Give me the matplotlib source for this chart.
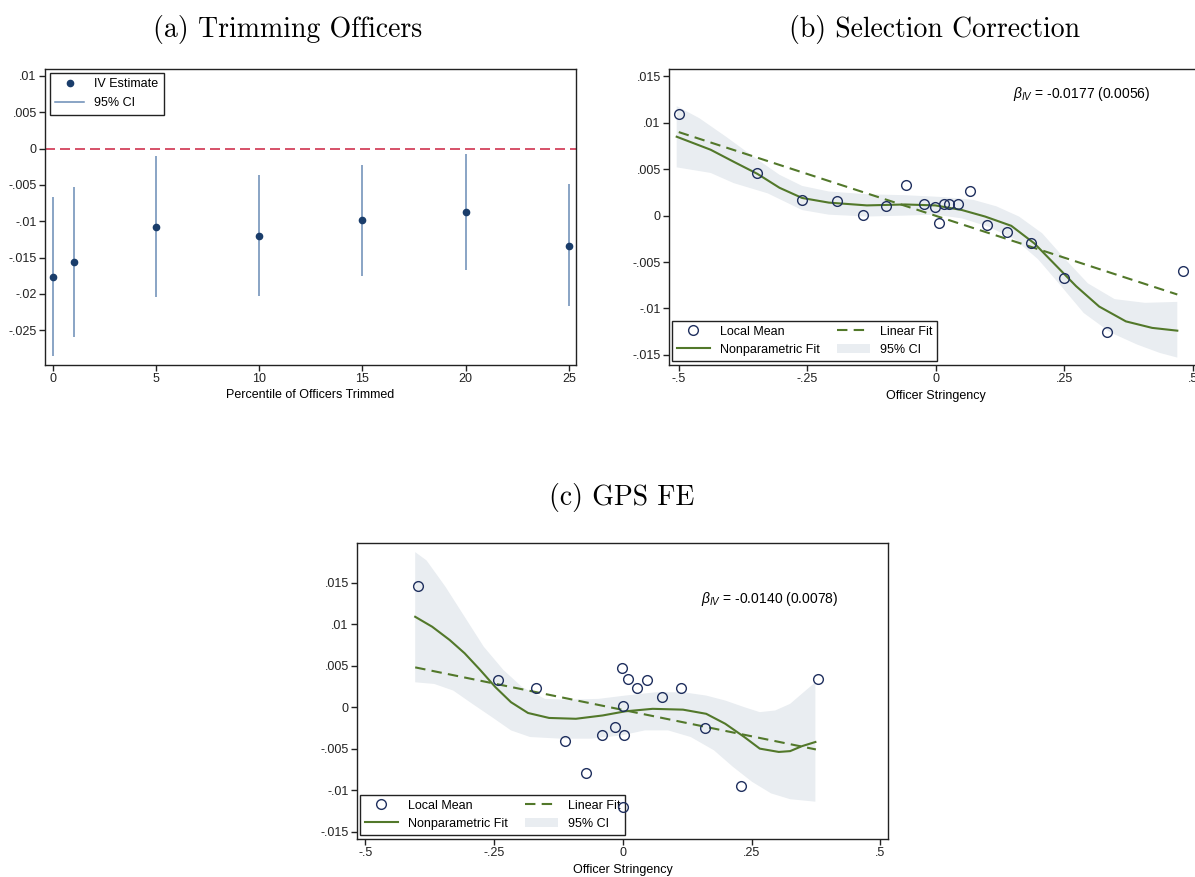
import matplotlib
matplotlib.use("Agg")
import matplotlib.pyplot as plt
import numpy as np
from matplotlib.lines import Line2D
from matplotlib.patches import Patch

plt.rcParams['font.family'] = ['Liberation Sans', 'DejaVu Sans']
plt.rcParams['mathtext.fontset'] = 'custom'
plt.rcParams['mathtext.it'] = 'Liberation Sans:italic'
plt.rcParams['mathtext.rm'] = 'Liberation Sans'

# ---- (a) Trimming Officers ----
trim_pct = [0, 1, 5, 10, 15, 20, 25]
trim_est = [-0.0177, -0.0156, -0.0108, -0.0120, -0.0099, -0.0087, -0.0134]
trim_lo = [-0.0286, -0.0259, -0.0205, -0.0203, -0.0175, -0.0167, -0.0217]
trim_hi = [-0.0066, -0.0053, -0.0010, -0.0037, -0.0022, -0.0007, -0.0049]

# ---- (b) Selection Correction ----
b_mean_x = [-0.500, -0.347, -0.260, -0.193, -0.141, -0.096, -0.058, -0.023, -0.001, 0.006,
            0.016, 0.026, 0.043, 0.067, 0.099, 0.138, 0.186, 0.250, 0.333, 0.481]
b_mean_y = [0.0109, 0.0046, 0.0017, 0.0016, 0.0001, 0.0010, 0.0033, 0.0012, 0.0009, -0.0008,
            0.0012, 0.0012, 0.0013, 0.0027, -0.0010, -0.0018, -0.0029, -0.0067, -0.0125, -0.0060]
b_lin_x = [-0.50, 0.47]
b_lin_y = [0.0090, -0.0085]
b_np_x = [-0.504, -0.438, -0.393, -0.347, -0.304, -0.260, -0.208, -0.134, -0.060, -0.001,
          0.051, 0.096, 0.147, 0.192, 0.229, 0.273, 0.318, 0.370, 0.421, 0.470]
b_np_y = [0.0085, 0.0071, 0.0058, 0.0045, 0.0030, 0.0019, 0.0014, 0.0011, 0.0012, 0.0011,
          0.0006, -0.0001, -0.0011, -0.0030, -0.0051, -0.0076, -0.0098, -0.0114, -0.0121, -0.0124]
b_hi_x = [-0.504, -0.460, -0.408, -0.356, -0.304, -0.260, -0.208, -0.134, -0.060, 0.014,
          0.073, 0.118, 0.162, 0.207, 0.252, 0.296, 0.348, 0.407, 0.470]
b_hi_y = [0.0118, 0.0105, 0.0085, 0.0064, 0.0044, 0.0032, 0.0026, 0.0023, 0.0022, 0.0020,
          0.0017, 0.0010, -0.0001, -0.0019, -0.0047, -0.0073, -0.0090, -0.0094, -0.0093]
b_lo_x = [-0.504, -0.438, -0.393, -0.327, -0.260, -0.208, -0.134, -0.060, -0.001, 0.051,
          0.103, 0.155, 0.199, 0.244, 0.288, 0.340, 0.392, 0.436, 0.470]
b_lo_y = [0.0052, 0.0046, 0.0035, 0.0024, 0.0006, 0.0001, -0.0001, 0.0000, 0.0001, -0.0003,
          -0.0012, -0.0026, -0.0047, -0.0076, -0.0105, -0.0126, -0.0139, -0.0148, -0.0153]

# ---- (c) GPS FE ----
c_mean_x = [-0.397, -0.243, -0.168, -0.113, -0.072, -0.040, -0.016, -0.002, 0.000, 0.002,
            0.000, 0.011, 0.027, 0.048, 0.077, 0.113, 0.159, 0.229, 0.379]
c_mean_y = [0.0146, 0.0033, 0.0023, -0.0041, -0.0079, -0.0034, -0.0024, 0.0047, 0.0002, -0.0034,
            -0.0121, 0.0034, 0.0023, 0.0033, 0.0012, 0.0023, -0.0025, -0.0095, 0.0034]
c_lin_x = [-0.403, 0.375]
c_lin_y = [0.0048, -0.0051]
c_np_x = [-0.403, -0.370, -0.336, -0.307, -0.277, -0.247, -0.217, -0.184, -0.143, -0.091,
          -0.039, 0.005, 0.058, 0.117, 0.162, 0.199, 0.236, 0.266, 0.303, 0.325, 0.348, 0.374]
c_np_y = [0.0109, 0.0097, 0.0081, 0.0065, 0.0045, 0.0024, 0.0006, -0.0007, -0.0013, -0.0014,
          -0.0010, -0.0005, -0.0002, -0.0003, -0.0008, -0.0020, -0.0036, -0.0050, -0.0054, -0.0053,
          -0.0047, -0.0042]
c_hi_x = [-0.403, -0.381, -0.344, -0.307, -0.270, -0.232, -0.195, -0.151, -0.106, -0.047,
          0.005, 0.065, 0.117, 0.162, 0.199, 0.236, 0.266, 0.296, 0.325, 0.355, 0.374]
c_hi_y = [0.0187, 0.0177, 0.0145, 0.0109, 0.0073, 0.0045, 0.0024, 0.0010, 0.0009, 0.0010,
          0.0014, 0.0018, 0.0018, 0.0014, 0.0008, 0.0000, -0.0006, -0.0004, 0.0004, 0.0020, 0.0030]
c_lo_x = [-0.403, -0.366, -0.329, -0.292, -0.254, -0.217, -0.180, -0.120, -0.061, -0.002,
          0.043, 0.088, 0.132, 0.177, 0.214, 0.251, 0.288, 0.325, 0.374]
c_lo_y = [0.0030, 0.0028, 0.0020, 0.0004, -0.0012, -0.0028, -0.0036, -0.0038, -0.0038, -0.0034,
          -0.0028, -0.0028, -0.0036, -0.0052, -0.0072, -0.0090, -0.0104, -0.0111, -0.0114]

ytick_a = [0.01, 0.005, 0, -0.005, -0.01, -0.015, -0.02, -0.025]
ytick_a_lab = ['.01', '.005', '0', '-.005', '-.01', '-.015', '-.02', '-.025']
ytick_bc = [0.015, 0.01, 0.005, 0, -0.005, -0.01, -0.015]
ytick_bc_lab = ['.015', '.01', '.005', '0', '-.005', '-.01', '-.015']
xtick_bc = [-0.5, -0.25, 0, 0.25, 0.5]
xtick_bc_lab = ['-.5', '-.25', '0', '.25', '.5']

NAVY = '#1a3d6b'
CI_BLUE = '#6a8cb5'
GREEN = '#52782a'
BAND = '#e9edf1'
CIRC = '#1f2f5e'

W, H = 1195, 877
fig = plt.figure(figsize=(W / 100, H / 100), dpi=100)


def px_axes(left, top, right, bottom):
    return fig.add_axes([left / W, 1 - bottom / H, (right - left) / W, (bottom - top) / H])


def style(ax):
    for s in ax.spines.values():
        s.set_linewidth(1.0)
        s.set_color('#222222')
    ax.tick_params(direction='out', length=4, width=1, labelsize=9, pad=2, colors='#222222')


# panel a
axa = px_axes(45, 69, 576, 365)
style(axa)
axa.axhline(0, color='#d0344f', lw=1.2, ls=(0, (6, 3)), zorder=1)
axa.vlines(trim_pct, trim_lo, trim_hi, color=CI_BLUE, lw=1.1, zorder=2)
axa.plot(trim_pct, trim_est, 'o', color=NAVY, ms=4.5, zorder=3)
axa.set_xlim(-0.39, 25.35)
axa.set_ylim(-0.0298, 0.01096)
axa.set_xticks(trim_pct[:1] + trim_pct[2:])
axa.set_yticks(ytick_a)
axa.set_yticklabels(ytick_a_lab)
axa.set_xlabel('Percentile of Officers Trimmed', fontsize=9, labelpad=3)
leg_a = [Line2D([], [], ls='none', marker='o', color=NAVY, ms=4.5, label='IV Estimate'),
         Line2D([], [], color=CI_BLUE, lw=1.1, label='95% CI')]
la = axa.legend(handles=leg_a, loc='upper left', bbox_to_anchor=(0.009, 0.987), borderaxespad=0,
                fontsize=9, fancybox=False, edgecolor='#222222', framealpha=1, handlelength=2.3,
                borderpad=0.45, labelspacing=0.55, handletextpad=0.8)
la.get_frame().set_linewidth(1.0)


def scatter_panel(ax, mx, my, lx, ly, nx, ny, hx, hy, lox, loy, txt, txt_xy, xlim, ylim):
    style(ax)
    ax.fill(np.concatenate([hx, lox[::-1]]), np.concatenate([hy, loy[::-1]]),
            color=BAND, lw=0, zorder=1)
    ax.plot(lx, ly, color=GREEN, lw=1.5, ls=(0, (5, 3)), zorder=2)
    ax.plot(nx, ny, color=GREEN, lw=1.5, zorder=3)
    # local means drawn above the legend box, as in the original
    ax.plot(mx, my, 'o', mfc='none', mec=CIRC, mew=1.0, ms=7, ls='none', zorder=7)
    ax.set_xlim(*xlim)
    ax.set_ylim(*ylim)
    ax.set_xticks(xtick_bc)
    ax.set_xticklabels(xtick_bc_lab)
    ax.set_yticks(ytick_bc)
    ax.set_yticklabels(ytick_bc_lab)
    ax.set_xlabel('Officer Stringency', fontsize=9, labelpad=3)
    ax.text(txt_xy[0], txt_xy[1], txt, fontsize=10, ha='left', va='center')
    handles = [Line2D([], [], ls='none', marker='o', mfc='none', mec=CIRC, mew=1.0, ms=7,
                      label='Local Mean'),
               Line2D([], [], color=GREEN, lw=1.5, label='Nonparametric Fit'),
               Line2D([], [], color=GREEN, lw=1.5, ls=(0, (5, 3)), label='Linear Fit'),
               Patch(facecolor=BAND, edgecolor='none', label='95% CI')]
    lg = ax.legend(handles=handles, ncol=2, loc='lower left', bbox_to_anchor=(0.006, 0.014),
                   borderaxespad=0, fontsize=9, fancybox=False, edgecolor='#222222',
                   framealpha=1, handlelength=2.6, columnspacing=1.4, borderpad=0.4,
                   labelspacing=0.5)
    lg.get_frame().set_linewidth(1.0)
    lg.set_zorder(5)


axb = px_axes(669, 69, 1203, 365)
scatter_panel(axb, b_mean_x, b_mean_y, b_lin_x, b_lin_y, b_np_x, b_np_y,
              np.array(b_hi_x), np.array(b_hi_y), np.array(b_lo_x), np.array(b_lo_y),
              r'$\beta_{IV}$ = -0.0177 (0.0056)', (0.151, 0.0131), (-0.519, 0.52), (-0.0161, 0.0158))

axc = px_axes(357, 543, 888, 839)
scatter_panel(axc, c_mean_x, c_mean_y, c_lin_x, c_lin_y, c_np_x, c_np_y,
              np.array(c_hi_x), np.array(c_hi_y), np.array(c_lo_x), np.array(c_lo_y),
              r'$\beta_{IV}$ = -0.0140 (0.0078)', (0.151, 0.0130), (-0.516, 0.515), (-0.0159, 0.0198))

title_kw = dict(fontsize=20, family='cmr10', ha='center', va='center')
fig.text(288 / W, 1 - 29 / H, '(a) Trimming Officers', **title_kw)
fig.text(935 / W, 1 - 29 / H, '(b) Selection Correction', **title_kw)
fig.text(622 / W, 1 - 497 / H, '(c) GPS FE', **title_kw)

fig.savefig('out.png', dpi=100)
